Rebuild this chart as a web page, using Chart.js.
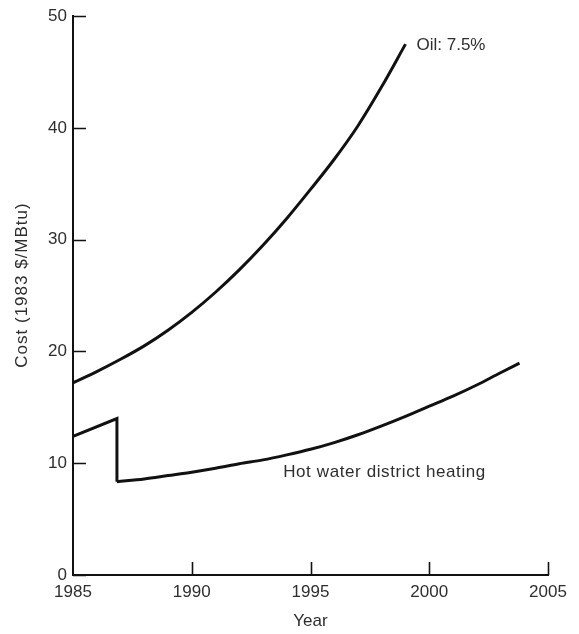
<!DOCTYPE html>
<html>
<head>
<meta charset="utf-8">
<script src="https://cdn.jsdelivr.net/npm/chart.js@4.4.1/dist/chart.umd.min.js"></script>
<style>
  html, body { margin: 0; padding: 0; background: #fff; }
  #wrap { width: 579px; height: 634px; }
</style>
</head>
<body>
<div id="wrap"><canvas id="c" width="579" height="634"></canvas></div>
<script>
// Oil price path (7.5% escalation), 1983 $/MBtu
const oilYears = [1985, 1986, 1987, 1988, 1989, 1990, 1991, 1992, 1993, 1994, 1995, 1996, 1997, 1998, 1999];
const oilCost  = [17.2, 18.2, 19.3, 20.5, 21.9, 23.5, 25.3, 27.3, 29.5, 31.9, 34.5, 37.2, 40.2, 43.7, 47.5];

// Hot water district heating: before the switch-over (with the drop) ...
const heatBeforeYears = [1985, 1986.85, 1986.85];
const heatBeforeCost  = [12.4, 14.0, 8.35];
// ... and after it
const heatAfterYears = [1986.85, 1988, 1989, 1990, 1991, 1992, 1993, 1994, 1995, 1996, 1997, 1998, 1999, 2000, 2001, 2002, 2003, 2003.8];
const heatAfterCost  = [8.35, 8.6, 8.9, 9.2, 9.55, 9.95, 10.3, 10.75, 11.25, 11.85, 12.55, 13.35, 14.2, 15.1, 16.0, 17.0, 18.1, 18.95];

const xTicks = [1985, 1990, 1995, 2000, 2005];
const yTicks = [0, 10, 20, 30, 40, 50];

const oilLabel  = 'Oil: 7.5%';
const heatLabel = 'Hot water district heating';
const xTitle = 'Year';
const yTitle = 'Cost (1983 $/MBtu)';

const INK = '#111';
const TEXT = '#2e2e2e';
const FONT = '"Liberation Sans", Arial, sans-serif';

function toPoints(xs, ys) { return xs.map((x, i) => ({ x: x, y: ys[i] })); }

// Inward tick marks, axis titles and curve labels
const decorations = {
  id: 'decorations',
  afterDraw(chart) {
    const { ctx, chartArea, scales: { x, y } } = chart;
    ctx.save();
    ctx.strokeStyle = INK;
    ctx.lineWidth = 1.6;
    ctx.beginPath();
    yTicks.forEach(v => {
      const py = Math.round(y.getPixelForValue(v)) + 0.5;
      ctx.moveTo(chartArea.left, py);
      ctx.lineTo(chartArea.left + 13, py);
    });
    xTicks.slice(1).forEach(v => {
      const px = Math.round(x.getPixelForValue(v)) + 0.5;
      ctx.moveTo(px, chartArea.bottom);
      ctx.lineTo(px, chartArea.bottom - 13);
    });
    ctx.stroke();

    ctx.fillStyle = TEXT;
    ctx.font = '17px ' + FONT;
    ctx.textBaseline = 'middle';

    // curve labels
    ctx.letterSpacing = '0px';
    ctx.textAlign = 'left';
    const ox = x.getPixelForValue(oilYears[oilYears.length - 1]);
    const oy = y.getPixelForValue(oilCost[oilCost.length - 1]);
    ctx.fillText(oilLabel, ox + 11, oy + 1);
    ctx.letterSpacing = '0.6px';
    ctx.fillText(heatLabel, x.getPixelForValue(1993.85), y.getPixelForValue(9.2));

    // axis titles
    ctx.letterSpacing = '0px';
    ctx.textAlign = 'center';
    ctx.fillText(xTitle, (chartArea.left + chartArea.right) / 2, 621);
    ctx.translate(22, 285);
    ctx.rotate(-Math.PI / 2);
    ctx.letterSpacing = '1px';
    ctx.fillText(yTitle, 0, 0);
    ctx.restore();
  }
};

const lineStyle = { borderColor: INK, borderWidth: 3, pointRadius: 0, fill: false, borderJoinStyle: 'miter' };

new Chart(document.getElementById('c'), {
  type: 'line',
  data: {
    datasets: [
      Object.assign({ label: 'Oil: 7.5%', data: toPoints(oilYears, oilCost), cubicInterpolationMode: 'monotone' }, lineStyle),
      Object.assign({ label: 'Hot water district heating', data: toPoints(heatBeforeYears, heatBeforeCost), tension: 0 }, lineStyle),
      Object.assign({ label: 'Hot water district heating', data: toPoints(heatAfterYears, heatAfterCost), cubicInterpolationMode: 'monotone' }, lineStyle)
    ]
  },
  options: {
    responsive: false,
    animation: false,
    devicePixelRatio: 1,
    layout: { padding: { top: 13, right: 31, left: 0, bottom: 0 } },
    plugins: {
      legend: { display: false },
      tooltip: { enabled: false },
      title: { display: false }
    },
    scales: {
      x: {
        type: 'linear',
        min: 1985,
        max: 2005,
        afterBuildTicks: s => { s.ticks = xTicks.map(v => ({ value: v })); },
        afterFit: s => { s.height = 59; },
        ticks: { font: { family: FONT, size: 17 }, color: TEXT, padding: 7, maxRotation: 0, callback: v => String(v) },
        grid: { display: true, drawOnChartArea: false, drawTicks: false, color: 'rgba(0,0,0,0)' },
        border: { display: true, color: INK, width: 2 },
        title: { display: false }
      },
      y: {
        type: 'linear',
        min: 0,
        max: 50,
        afterBuildTicks: s => { s.ticks = yTicks.map(v => ({ value: v })); },
        afterFit: s => { s.width = 73; },
        ticks: { font: { family: FONT, size: 17 }, color: TEXT, padding: 6, callback: v => String(v) },
        grid: { display: true, drawOnChartArea: false, drawTicks: false, color: 'rgba(0,0,0,0)' },
        border: { display: true, color: INK, width: 2 },
        title: { display: false }
      }
    }
  },
  plugins: [decorations]
});
</script>
</body>
</html>
